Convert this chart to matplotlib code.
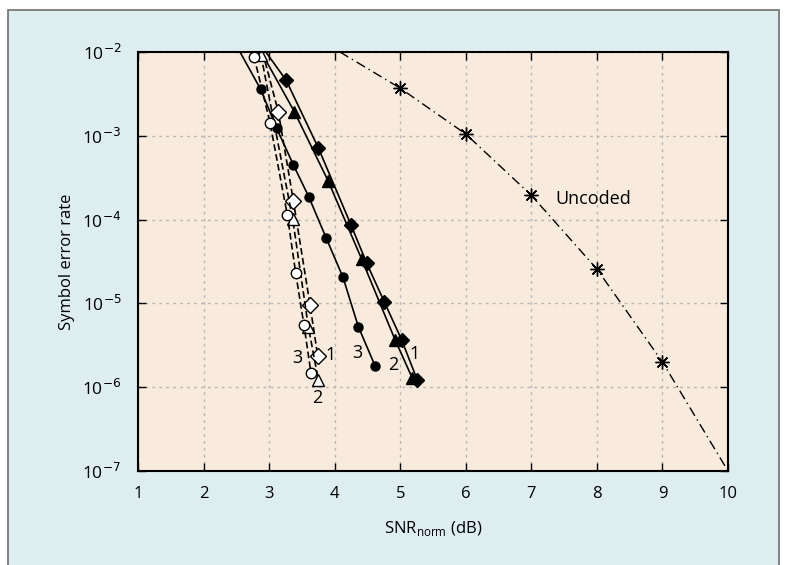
import numpy as np
import matplotlib
matplotlib.use("Agg")
import matplotlib.pyplot as plt
from matplotlib.patches import Rectangle

plt.rcParams['font.family'] = ['Open Sans', 'DejaVu Sans']

# =========================================================
# data (SNR_norm in dB, symbol error rate)
# first point of each coded curve is where the line leaves the top edge
# =========================================================

# solid curves, filled markers
c1_x = [2.95, 3.26, 3.75, 4.25, 4.49, 4.76, 5.02, 5.26]
c1_y = [1.0e-2, 4.6e-3, 7.2e-4, 8.6e-5, 3.0e-5, 1.03e-5, 3.7e-6, 1.22e-6]

c2_x = [2.88, 3.385, 3.90, 4.41, 4.92, 5.185]
c2_y = [1.0e-2, 1.94e-3, 2.9e-4, 3.4e-5, 3.7e-6, 1.28e-6]

c3_x = [2.556, 2.87, 3.116, 3.37, 3.604, 3.868, 4.127, 4.36, 4.616]
c3_y = [1.0e-2, 3.6e-3, 1.23e-3, 4.5e-4, 1.88e-4, 6.1e-5, 2.05e-5, 5.3e-6, 1.8e-6]

# dashed curves, open markers
d1_x = [2.90, 3.14, 3.37, 3.624, 3.741]
d1_y = [1.0e-2, 1.94e-3, 1.68e-4, 9.6e-6, 2.36e-6]

d2_x = [2.876, 3.36, 3.598, 3.751]
d2_y = [9.2e-3, 1.01e-4, 5.3e-6, 1.22e-6]

d3_x = [2.77, 3.014, 3.278, 3.406, 3.532, 3.639]
d3_y = [8.8e-3, 1.43e-3, 1.13e-4, 2.29e-5, 5.5e-6, 1.47e-6]

# uncoded reference curve (markers on 5..9 dB only)
unc_x = [4.08, 5, 6, 7, 8, 9, 10]
unc_y = [1.0e-2, 3.7e-3, 1.05e-3, 1.95e-4, 2.57e-5, 2.0e-6, 1.0e-7]

# curve labels: (text, x, y)
labels = [
    ("1", 3.93, 2.42e-6), ("2", 3.731, 7.4e-7), ("3", 3.435, 2.23e-6),
    ("3", 4.346, 2.55e-6), ("2", 4.895, 1.84e-6), ("1", 5.225, 2.49e-6),
]

xticks = list(range(1, 11))
yticks = [1e-7, 1e-6, 1e-5, 1e-4, 1e-3, 1e-2]
ytick_labels = [r"10$^{-7}$", r"10$^{-6}$", r"10$^{-5}$", r"10$^{-4}$",
                r"10$^{-3}$", r"10$^{-2}$"]

# =========================================================
# figure
# =========================================================

fig = plt.figure(figsize=(7.87, 5.65), dpi=100)
fig.patch.set_facecolor("white")

# light blue panel with grey frame, behind everything
bg = fig.add_axes([0, 0, 1, 1], zorder=-5)
bg.set_xlim(0, 787)
bg.set_ylim(565, 0)
bg.axis("off")
bg.add_patch(Rectangle((8, 10), 771, 580, facecolor="#deedf0",
                       edgecolor="#7a7a7a", linewidth=1.3))

ax = fig.add_axes([138/787, 1 - 471/565, (728-138)/787, (471-52)/565])
ax.set_facecolor("#f8ebdd")
ax.set_yscale("log")

# solid, filled
ax.plot(c1_x, c1_y, "-", color="k", lw=1.2, marker="D", ms=7, mfc="k", mec="k", markevery=list(range(1, len(c1_x))))
ax.plot(c2_x, c2_y, "-", color="k", lw=1.2, marker="^", ms=8, mfc="k", mec="k", markevery=list(range(1, len(c2_x))))
ax.plot(c3_x, c3_y, "-", color="k", lw=1.2, marker="o", ms=6.5, mfc="k", mec="k", markevery=list(range(1, len(c3_x))))

# dashed, open
ax.plot(d1_x, d1_y, "--", color="k", lw=1.2, dashes=(4, 2), marker="D", ms=8, mfc="white", mec="k", markevery=list(range(1, len(d1_x))))
ax.plot(d2_x, d2_y, "--", color="k", lw=1.2, dashes=(4, 2), marker="^", ms=9, mfc="white", mec="k")
ax.plot(d3_x, d3_y, "--", color="k", lw=1.2, dashes=(4, 2), marker="o", ms=7.5, mfc="white", mec="k")

# uncoded
ax.plot(unc_x, unc_y, color="k", lw=1.0, linestyle=(0, (7, 3, 1, 3)),
        marker=(8, 2, 0), ms=10, mec="k", markevery=[1, 2, 3, 4, 5])

for t, x, y in labels:
    ax.text(x, y, t, fontsize=13, ha="center", va="center")
ax.text(7.37, 1.76e-4, "Uncoded", fontsize=13, ha="left", va="center")

ax.set_xlim(1, 10)
ax.set_ylim(1e-7, 1e-2)
ax.set_xticks(xticks)
ax.set_xticklabels([str(t) for t in xticks], fontsize=12)
ax.set_yticks(yticks)
ax.set_yticklabels(ytick_labels, fontsize=12.5)
ax.yaxis.set_minor_locator(matplotlib.ticker.NullLocator())
ax.tick_params(which="both", direction="in", top=True, right=True,
               length=6, width=1.0, pad=12)
ax.tick_params(axis="x", pad=11)
ax.grid(True, linestyle=(0, (2, 3)), color="#b5b5b5", linewidth=1.0)
for s in ax.spines.values():
    s.set_linewidth(1.5)

ax.set_xlabel(r"SNR$_{\mathregular{norm}}$ (dB)", fontsize=12, labelpad=12)
ax.set_ylabel("Symbol error rate", fontsize=12, labelpad=5)

fig.savefig("out.png", dpi=100, facecolor=fig.get_facecolor())
